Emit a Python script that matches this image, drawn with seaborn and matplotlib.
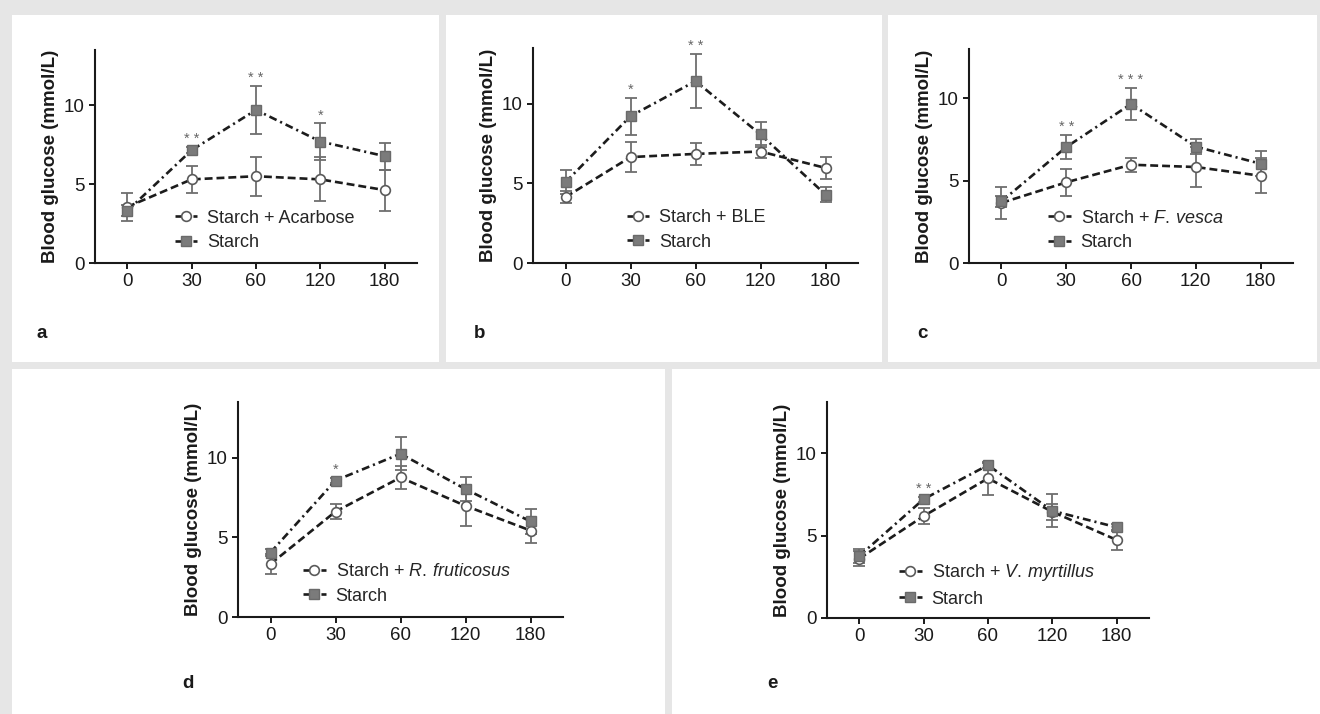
import numpy as np
import pandas as pd
import matplotlib
matplotlib.use("Agg")
import matplotlib.pyplot as plt
from matplotlib.patches import Rectangle
from matplotlib.lines import Line2D
from matplotlib import font_manager
import seaborn as sns

# ---------------- data ----------------
times = ["0", "30", "60", "120", "180"]

a_label = "Starch + Acarbose"
a_treat = [3.55, 5.3, 5.5, 5.3, 4.62]
a_treat_err = [0.9, 0.85, 1.25, 1.4, 1.3]
a_starch = [3.3, 7.15, 9.7, 7.7, 6.77]
a_starch_err = [0.35, 0.2, 1.55, 1.15, 0.85]
a_stars = ["", "**", "**", "*", ""]

b_label = "Starch + BLE"
b_treat = [4.14, 6.65, 6.85, 7.0, 5.97]
b_treat_err = [0.4, 0.95, 0.68, 0.4, 0.68]
b_starch = [5.07, 9.22, 11.42, 8.07, 4.3]
b_starch_err = [0.75, 1.17, 1.68, 0.8, 0.5]
b_stars = ["", "*", "**", "", ""]

c_label = r"Starch + $\mathit{F.\,vesca}$"
c_treat = [3.65, 4.9, 5.97, 5.83, 5.3]
c_treat_err = [0.95, 0.8, 0.42, 1.2, 1.05]
c_starch = [3.74, 7.04, 9.66, 7.07, 6.03]
c_starch_err = [0.35, 0.72, 0.95, 0.45, 0.75]
c_stars = ["", "**", "***", "", ""]

d_label = r"Starch + $\mathit{R.\,fruticosus}$"
d_treat = [3.33, 6.62, 8.76, 6.98, 5.43]
d_treat_err = [0.6, 0.48, 0.7, 1.25, 0.8]
d_starch = [4.05, 8.57, 10.25, 8.03, 6.0]
d_starch_err = [0.2, 0.15, 1.05, 0.73, 0.77]
d_stars = ["", "*", "", "", ""]

e_label = r"Starch + $\mathit{V.\,myrtillus}$"
e_treat = [3.6, 6.18, 8.47, 6.44, 4.73]
e_treat_err = [0.45, 0.47, 1.0, 0.5, 0.6]
e_starch = [3.76, 7.21, 9.27, 6.5, 5.5]
e_starch_err = [0.45, 0.15, 0.15, 1.0, 0.2]
e_stars = ["", "**", "", "", ""]

starch_label = "Starch"
panel_letters = ["a", "b", "c", "d", "e"]
y_label = "Blood glucose (mmol/L)"

# ---------------- style ----------------
sns.set_style("white")
avail = {f.name for f in font_manager.fontManager.ttflist}
BASE = "Liberation Sans" if "Liberation Sans" in avail else "DejaVu Sans"
plt.rcParams["font.family"] = [BASE, "DejaVu Sans"]
plt.rcParams["mathtext.fontset"] = "custom"
plt.rcParams["mathtext.rm"] = BASE
plt.rcParams["mathtext.it"] = BASE + ":italic"

W, H = 1320, 714
fig = plt.figure(figsize=(W / 100, H / 100), dpi=100, facecolor="#e6e6e6")

boxes = [(12, 15, 439, 362), (446, 15, 882, 362), (888, 15, 1317, 362),
         (12, 369, 665, 714), (672, 369, 1320, 714)]
for x0, y0, x1, y1 in boxes:
    fig.patches.append(Rectangle((x0 / W, 1 - y1 / H), (x1 - x0) / W, (y1 - y0) / H,
                                 transform=fig.transFigure, facecolor="white",
                                 edgecolor="none", zorder=-10))

# axes rectangles in pixels (left, top, right, bottom), y upper limit
axes_px = [(95, 50, 417, 263, 13.5), (533, 48, 858, 263, 13.5), (969, 49, 1293, 263, 13.0),
           (238, 402, 563, 617, 13.5), (827, 402, 1149, 618, 13.1)]
letter_px = [(42, 333), (480, 333), (922, 333), (188, 683), (772, 683)]
legend_x = [0.248, 0.289, 0.244, 0.20, 0.224]

panels = [
    (a_label, a_treat, a_treat_err, a_starch, a_starch_err, a_stars),
    (b_label, b_treat, b_treat_err, b_starch, b_starch_err, b_stars),
    (c_label, c_treat, c_treat_err, c_starch, c_starch_err, c_stars),
    (d_label, d_treat, d_treat_err, d_starch, d_starch_err, d_stars),
    (e_label, e_treat, e_treat_err, e_starch, e_starch_err, e_stars),
]

LINE = "#1c1c1c"
ERR = "#6e6e6e"
SQ_FACE = "#7b7b7b"
SQ_EDGE = "#6a6a6a"
CI_EDGE = "#5a5a5a"
DASH = (0, (3.0, 1.5))
DASHDOT = (0, (3.0, 1.5, 0.8, 1.5))
LW = 1.9

for i, (lab, tr, tre, st, ste, stars) in enumerate(panels):
    l, t, r, b, ytop = axes_px[i]
    ax = fig.add_axes([l / W, 1 - b / H, (r - l) / W, (b - t) / H])
    ax.set_facecolor("none")
    pos = np.arange(len(times))
    df = pd.DataFrame({"pos": pos, "treat": tr, "starch": st})

    ax.errorbar(pos, st, yerr=ste, fmt="none", ecolor=ERR, elinewidth=1.3,
                capsize=4.5, capthick=1.3, zorder=2)
    ax.errorbar(pos, tr, yerr=tre, fmt="none", ecolor=ERR, elinewidth=1.3,
                capsize=4.5, capthick=1.3, zorder=2)

    sns.lineplot(data=df, x="pos", y="treat", ax=ax, color=LINE, linewidth=LW,
                 linestyle=DASH, marker="o", markersize=7,
                 markerfacecolor="white", markeredgecolor=CI_EDGE, markeredgewidth=1.2,
                 zorder=3, legend=False)
    sns.lineplot(data=df, x="pos", y="starch", ax=ax, color=LINE, linewidth=LW,
                 linestyle=DASHDOT, marker="s", markersize=7.5,
                 markerfacecolor=SQ_FACE, markeredgecolor=SQ_EDGE, markeredgewidth=1.0,
                 zorder=4, legend=False)

    for k, s in enumerate(stars):
        if s:
            top = max(st[k] + ste[k], tr[k] + tre[k])
            ax.text(pos[k], top + 0.25, " ".join(s), ha="center", va="baseline",
                    fontsize=10.5, color="#666666", clip_on=False)

    ax.set_xlim(-0.5, len(times) - 0.5)
    ax.set_ylim(0, ytop)
    ax.set_xticks(pos)
    ax.set_xticklabels(times)
    ax.set_yticks([0, 5, 10])
    ax.set_xlabel("")
    ax.set_ylabel(y_label, fontsize=13.5, fontweight="bold", color="#1a1a1a")
    ax.yaxis.set_label_coords(-36.0 / (r - l), 0.5)
    for sp in ["top", "right"]:
        ax.spines[sp].set_visible(False)
    for sp in ["left", "bottom"]:
        ax.spines[sp].set_linewidth(1.5)
        ax.spines[sp].set_color("#1a1a1a")
    ax.tick_params(axis="both", direction="out", length=4.5, width=1.4,
                   labelsize=13.5, colors="#1a1a1a", pad=3.0, left=True, bottom=True)

    handles = [
        Line2D([], [], color=LINE, linewidth=LW, linestyle=DASHDOT, marker="o",
               markersize=7, markerfacecolor="white", markeredgecolor=CI_EDGE,
               markeredgewidth=1.2),
        Line2D([], [], color=LINE, linewidth=LW, linestyle=DASHDOT, marker="s",
               markersize=7.5, markerfacecolor=SQ_FACE, markeredgecolor=SQ_EDGE),
    ]
    ax.legend(handles, [lab, starch_label], loc="center left",
              bbox_to_anchor=(legend_x[i], 0.153), frameon=False, fontsize=13,
              handlelength=1.25, handletextpad=0.55, labelspacing=0.4,
              borderpad=0, borderaxespad=0, numpoints=1)

    lx, ly = letter_px[i]
    fig.text(lx / W, 1 - ly / H, panel_letters[i], fontsize=13.5, fontweight="bold",
             ha="center", va="center", color="#1a1a1a")

fig.savefig("out.png", dpi=100, facecolor=fig.get_facecolor())
